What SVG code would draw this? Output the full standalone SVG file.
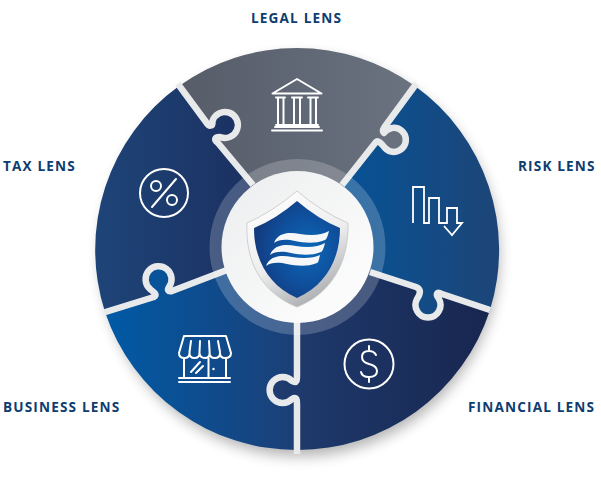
<svg xmlns="http://www.w3.org/2000/svg" width="601" height="496" viewBox="0 0 601 496">
<style>
.lbl{font-family:"Open Sans","Liberation Sans",sans-serif;font-weight:700;font-size:13.6px;letter-spacing:1.15px;fill:#0e3d70}
.ic{fill:none;stroke:#fff;stroke-width:2;stroke-linejoin:round;stroke-linecap:round}
.thin{fill:none;stroke:#fff;stroke-width:1.8;stroke-linejoin:miter}
.seam{fill:none;stroke:#e8e9ea;stroke-width:6.500;stroke-linejoin:round}
</style>
<defs>
<linearGradient id="gL" x1="0" x2="1" y1="0" y2="0"><stop offset="0" stop-color="#565d69"/><stop offset="1" stop-color="#6b7280"/></linearGradient>
<linearGradient id="gT" x1="0" x2="1" y1="0" y2="0"><stop offset="0" stop-color="#1e4478"/><stop offset="1" stop-color="#1a2b5a"/></linearGradient>
<linearGradient id="gR" x1="0" x2="1" y1="0" y2="0"><stop offset="0" stop-color="#00569f"/><stop offset="1" stop-color="#1d4577"/></linearGradient>
<linearGradient id="gF" x1="0" x2="1" y1="0" y2="0"><stop offset="0" stop-color="#1f3c70"/><stop offset="1" stop-color="#18264f"/></linearGradient>
<linearGradient id="gB" x1="0" x2="1" y1="0" y2="0"><stop offset="0" stop-color="#005aa6"/><stop offset="1" stop-color="#1c3f76"/></linearGradient>
<linearGradient id="gC" x1="0" x2="1" y1="0" y2="1"><stop offset="0" stop-color="#ecedee"/><stop offset="1" stop-color="#ffffff"/></linearGradient>
<linearGradient id="gS" x1="0.2" x2="0.7" y1="0" y2="1"><stop offset="0" stop-color="#ffffff"/><stop offset="0.55" stop-color="#ededee"/><stop offset="1" stop-color="#a4a6a9"/></linearGradient>
<radialGradient id="gI" cx="0.62" cy="0.5" r="0.6"><stop offset="0" stop-color="#0b69b9"/><stop offset="0.6" stop-color="#0f4f9c"/><stop offset="1" stop-color="#133c80"/></radialGradient>
<filter id="blur" x="-20%" y="-20%" width="140%" height="140%"><feGaussianBlur stdDeviation="7"/></filter>
<clipPath id="disc"><circle cx="297" cy="248" r="203"/><rect x="293" y="445" width="8" height="9"/></clipPath>
</defs>
<ellipse cx="300" cy="256" rx="199" ry="200" fill="#000" opacity="0.3" filter="url(#blur)"/>
<g id="legal-segment">
<path fill="url(#gL)" d="M179 86A202 202 0 0 1 415 86L386 125C383 129 382 131 384 133A12 12 0 1 1 385 148C381 143 378 140 376 142L342 185L297 247L253 185L218 143C214 140 214 137 220 137A13 13 0 1 0 212.500 121C213 127 209 127 206 122Z"/>
<path class="ic" d="M297 79L272.500 93.500H321.500Z"/>
<path class="ic" d="M276 97.500H285M292 97.500H302M308 97.500H318M278 98V124M283.500 98V124M294 98V124M300 98V124M310.500 98V124M316 98V124M276 125H318M275 127H319"/>
<path class="ic" d="M272 130.500H322"/>
</g>
<g id="tax-segment">
<path fill="url(#gT)" d="M105 312A202 202 0 0 1 179 86L206 122C209 127 213 127 212.500 121A13 13 0 1 1 220 137C214 137 214 140 218 143L253 185L297 247L227 270L172 291C168 292 167 290 169 287A13 13 0 1 0 150 289C153 292 158 294 154 297Z"/>
<circle class="ic" cx="164" cy="193" r="24"/>
<path class="ic" d="M152 207L176 179"/>
<circle class="ic" cx="156" cy="186" r="5"/>
<circle class="ic" cx="172" cy="200" r="5"/>
</g>
<g id="risk-segment">
<path fill="url(#gR)" d="M415 86A202 202 0 0 1 490 310L442 294C437 291 435 294 439 299A12.500 12.500 0 1 1 417 299C421 293 421 289 416 287L370 272L297 247L342 185L376 142C378 140 381 143 385 148A12 12 0 1 0 384 133C382 131 383 129 386 125Z"/>
<path class="thin" d="M413 223V187H424V223H429V198H439V223H447V208H457V223H462L452 235L444 226"/>
</g>
<g id="financial-segment">
<path fill="url(#gF)" d="M490 310A202 202 0 0 1 297 450V405C297 400 297 396 292 399A13 13 0 1 1 292 381C297 384 297 380 297 375V247L370 272L416 287C421 289 421 293 417 299A12.500 12.500 0 1 0 439 299C435 294 437 291 442 294Z"/>
<circle class="ic" cx="369" cy="364" r="24.500"/>
<path class="ic" d="M376 355Q374 351 369 351Q362 351 362 357Q362 362 369 364Q377 366 377 371Q377 377 369 377Q362 377 361 372M369 346V351M369 377V382"/>
</g>
<g id="business-segment">
<path fill="url(#gB)" d="M297 450A202 202 0 0 1 105 312L154 297C158 294 153 292 150 289A13 13 0 1 1 169 287C167 290 168 292 172 291L227 270L297 247V375C297 380 297 384 292 381A13 13 0 1 0 292 399C297 396 297 400 297 405Z"/>
<path class="ic" d="M184 336H226L231 353Q231 358 225 358Q220 358 220 353Q220 358 214.800 358Q209.600 358 209.600 353Q209.600 358 204.800 358Q200 358 199.500 353Q199.500 358 194.500 358Q189.500 358 189.500 353Q189.500 358 184.500 358Q179 358 179 353Z"/>
<path class="ic" d="M191 341L189.500 352M200 341L199.500 352M209 341L209.600 352M218 341L220 352M184 359V378M226 359V378M208.500 358V378M191 372L200 362M196 373L203 366M179 378H230M179 382H230"/>
<circle cx="213.500" cy="369" r="1.200" fill="#fff"/>
</g>
<g id="connectors" clip-path="url(#disc)">
<path class="seam" d="M175 80L206 122C209 127 213 127 212.500 121A13 13 0 1 1 220 137C214 137 214 140 218 143L253 185"/>
<path class="seam" d="M419 80L386 125C383 129 382 131 384 133A12 12 0 1 1 385 148C381 143 378 140 376 142L342 185"/>
<path class="seam" d="M370 272L416 287C421 289 421 293 417 299A12.500 12.500 0 1 0 439 299C435 294 437 291 442 294L496 312"/>
<path class="seam" d="M297 320V375C297 380 297 384 292 381A13 13 0 1 0 292 399C297 396 297 400 297 405V456"/>
<path class="seam" d="M227 270L172 291C168 292 167 290 169 287A13 13 0 1 0 150 289C153 292 158 294 154 297L99 314"/>
</g>
<g id="center-hub">
<circle cx="297.500" cy="247" r="88" fill="#fff" opacity="0.2"/>
<circle cx="297.500" cy="247" r="76" fill="url(#gC)"/>
<path d="M297 191Q322 212 348 223C349 262 332 293 297 307C262 293 245 262 247 223Q272 212 297 191Z" fill="url(#gS)" stroke="#c4c5c7" stroke-width="0.800"/>
<path d="M297 201Q318 219 340 228C340 259 326 285 297 298C268 285 254 259 254 228Q276 219 297 201Z" fill="url(#gI)"/>
<g fill="#f6f7f9">
<path d="M274 243C278 232 290 232 300 234C312 236 322 235 329 231C328 236 326 240 325 240C315 244 305 243 295 241C287 239 279 239 274 243Z"/>
<path d="M270 255C274 244 286 244 296 246C308 248 318 247 325 243C324 248 322 252 321 252C311 256 301 255 291 253C283 251 275 251 270 255Z"/>
<path d="M266 266C270 255 282 255 292 257C304 259 314 258 320 255C319 260 318 263 317 263C307 267 297 266 287 264C279 262 271 262 266 266Z"/>
</g>
</g>
<text class="lbl" x="251" y="23">LEGAL LENS</text>
<text class="lbl" x="3" y="171">TAX LENS</text>
<text class="lbl" x="518" y="171">RISK LENS</text>
<text class="lbl" x="3" y="412">BUSINESS LENS</text>
<text class="lbl" x="468" y="412">FINANCIAL LENS</text>
</svg>
